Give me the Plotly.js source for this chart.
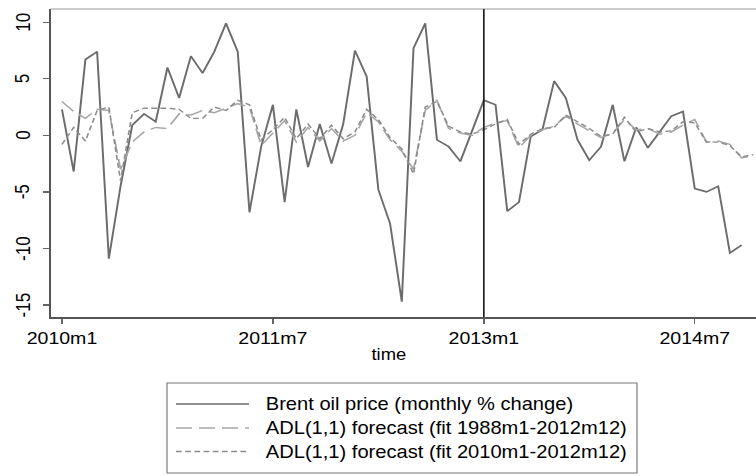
<!DOCTYPE html>
<html><head><meta charset="utf-8">
<script src="https://cdn.plot.ly/plotly-3.0.1.min.js"></script>
<style>
html,body{margin:0;padding:0;width:756px;height:476px;overflow:hidden;background:#fff;}
#wrap{width:696px;height:476px;transform:scaleX(1.15);transform-origin:0 0;}
#chart{width:696px;height:476px;}
</style></head><body><div id="wrap"><div id="chart"></div></div>
<script>
// Monthly data, 2010m1 .. 2014m12
const years = [2010, 2011, 2012, 2013, 2014];
const brent = [2.3, -3.2, 6.7, 7.4, -10.9, -4.5, 0.9, 1.9, 1.2, 6.0,
  3.3, 7.0, 5.5, 7.4, 9.9, 7.4, -6.8, -1.0, 2.7, -5.9,
  2.3, -2.8, 1.0, -2.5, 1.0, 7.5, 5.2, -4.8, -7.8, -14.7,
  7.7, 9.9, -0.4, -1.0, -2.3, 0.4, 3.1, 2.7, -6.7, -5.9,
  -0.1, 0.5, 4.8, 3.3, -0.4, -2.2, -1.0, 2.7, -2.3, 0.7,
  -1.1, 0.3, 1.7, 2.1, -4.7, -5.0, -4.5, -10.4, -9.7];
const adlFit1988 = [3.0, 2.1, 1.5, 2.3, 2.2, -3.0, -0.6, 0.3, 0.7, 0.6,
  1.9, 1.8, 2.2, 2.0, 2.4, 2.8, 2.5, -0.9, 0.2, 1.3,
  -0.6, 0.7, -0.5, 0.6, -0.5, 0.0, 2.0, 1.2, -0.4, -1.4,
  -3.0, 2.2, 3.1, 0.6, 0.2, 0.0, 0.7, 1.1, 1.3, -1.1,
  0.0, 0.5, 0.8, 1.7, 1.0, 0.4, -0.2, 0.2, 1.4, 0.5,
  0.6, 0.1, 0.3, 0.9, 1.4, -0.6, -0.5, -0.8, -2.0, -1.8];
const adlFit2010 = [-0.8, 0.7, -0.5, 2.2, 2.5, -4.0, 2.0, 2.4, 2.4, 2.4,
  2.3, 1.5, 1.5, 2.5, 2.2, 3.1, 2.7, -0.4, 0.5, 1.6,
  -0.3, 1.0, -0.3, 0.9, -0.3, 0.3, 2.3, 1.4, -0.2, -1.2,
  -3.4, 2.5, 3.0, 0.8, 0.3, 0.1, 0.5, 1.0, 1.4, -0.8,
  0.1, 0.6, 0.7, 1.8, 1.2, 0.6, -0.1, 0.1, 1.6, 0.3,
  0.6, 0.3, 0.4, 1.2, 1.1, -0.6, -0.6, -0.9, -1.9, -1.7];
const tickLabels = ['2010m1', '2011m7', '2013m1', '2014m7'];
const yTicks = [-15, -10, -5, 0, 5, 10];
const splitLabel = '2013m1';
const seriesNames = ['Brent oil price (monthly % change)',
  'ADL(1,1) forecast (fit 1988m1-2012m12)',
  'ADL(1,1) forecast (fit 2010m1-2012m12)'];
const xTitle = 'time';

// month labels and their positions
const monthLabels = [];
years.forEach(y => { for (let m = 1; m <= 12; m++) monthLabels.push(y + 'm' + m); });
const monthIdx = monthLabels.map((_, i) => i);
const tickVals = tickLabels.map(l => monthLabels.indexOf(l));
const splitX = monthLabels.indexOf(splitLabel);

const SX = 1.15, W = 696, H = 476;
const ML = 44, MR = 8, MT = 9, MB = 159;
const PW = W - ML - MR, PH = H - MT - MB;
const px = X => (X / SX - ML) / PW;       // target pixel x -> paper
const py = Y => (MT + PH - Y) / PH;        // target pixel y -> paper

const font = 'Liberation Sans, Arial, Helvetica, sans-serif';
const cSolid = '#6c6c6c', cLong = '#a8a8a8', cShort = '#8c8c8c';
const dLong = '14px,6px', dShort = '5px,3px';

const traces = [
  {x: monthIdx.slice(0, brent.length), y: brent, type: 'scatter', mode: 'lines',
   line: {color: cSolid, width: 1.7}, showlegend: false, name: seriesNames[0]},
  {x: monthIdx, y: adlFit1988, type: 'scatter', mode: 'lines',
   line: {color: cLong, width: 1.5, dash: dLong}, showlegend: false, name: seriesNames[1]},
  {x: monthIdx, y: adlFit2010, type: 'scatter', mode: 'lines',
   line: {color: cShort, width: 1.4, dash: dShort}, showlegend: false, name: seriesNames[2]}
];

const rows = [404, 428, 451.5];
const legShapes = [
  {type: 'rect', xref: 'paper', yref: 'paper', x0: px(167), x1: px(637), y0: py(383), y1: py(473),
   line: {color: '#777', width: 1}, fillcolor: 'rgba(0,0,0,0)'}
];
const legStyles = [{color: cSolid, width: 1.7, dash: 'solid'}, {color: cLong, width: 1.5, dash: dLong}, {color: cShort, width: 1.4, dash: dShort}];
rows.forEach((r, i) => legShapes.push({type: 'line', xref: 'paper', yref: 'paper',
  x0: px(176), x1: px(249), y0: py(r), y1: py(r), line: legStyles[i]}));
const legAnn = rows.map((r, i) => ({xref: 'paper', yref: 'paper', x: px(263), y: py(r),
  xanchor: 'left', yanchor: 'middle', text: seriesNames[i], showarrow: false,
  font: {family: font, size: 17.5, color: '#000'}}));
const yTickAnn = yTicks.map(v => ({xref: 'paper', yref: 'y', x: px(23.5), y: v,
  xanchor: 'center', yanchor: 'middle', text: String(v), textangle: -90, showarrow: false,
  font: {family: font, size: 17, color: '#000'}}));

const layout = {
  width: W, height: H,
  margin: {l: ML, r: MR, t: MT, b: MB, pad: 0},
  paper_bgcolor: '#fff', plot_bgcolor: '#fff',
  font: {family: font, color: '#000'},
  xaxis: {range: [-0.97, 62.23], tickvals: tickVals, ticktext: tickLabels,
    showgrid: false, zeroline: false, showline: true, linecolor: '#555', linewidth: 1.5,
    ticks: 'outside', ticklen: 5, tickwidth: 1.2, tickcolor: '#666',
    tickfont: {family: font, size: 17, color: '#000'}, ticklabelstandoff: 0},
  yaxis: {range: [-16.06, 11.17], tickvals: yTicks, showgrid: false, zeroline: false,
    showline: true, linecolor: '#555', linewidth: 1.5, showticklabels: false,
    ticks: 'outside', ticklen: 5, tickwidth: 1.2, tickcolor: '#666'},
  shapes: [
    {type: 'line', xref: 'paper', yref: 'paper', x0: 0, x1: 1, y0: 1, y1: 1, line: {color: '#999', width: 1.2}},
    {type: 'line', xref: 'x', yref: 'paper', x0: splitX, x1: splitX, y0: 0, y1: 1, line: {color: '#222', width: 1.5}}
  ].concat(legShapes),
  annotations: [{xref: 'paper', yref: 'paper', x: px(389), y: py(354), xanchor: 'center', yanchor: 'middle',
    text: xTitle, showarrow: false, font: {family: font, size: 16, color: '#000'}}].concat(legAnn, yTickAnn)
};

Plotly.newPlot('chart', traces, layout, {staticPlot: true, displayModeBar: false});
</script></body></html>
